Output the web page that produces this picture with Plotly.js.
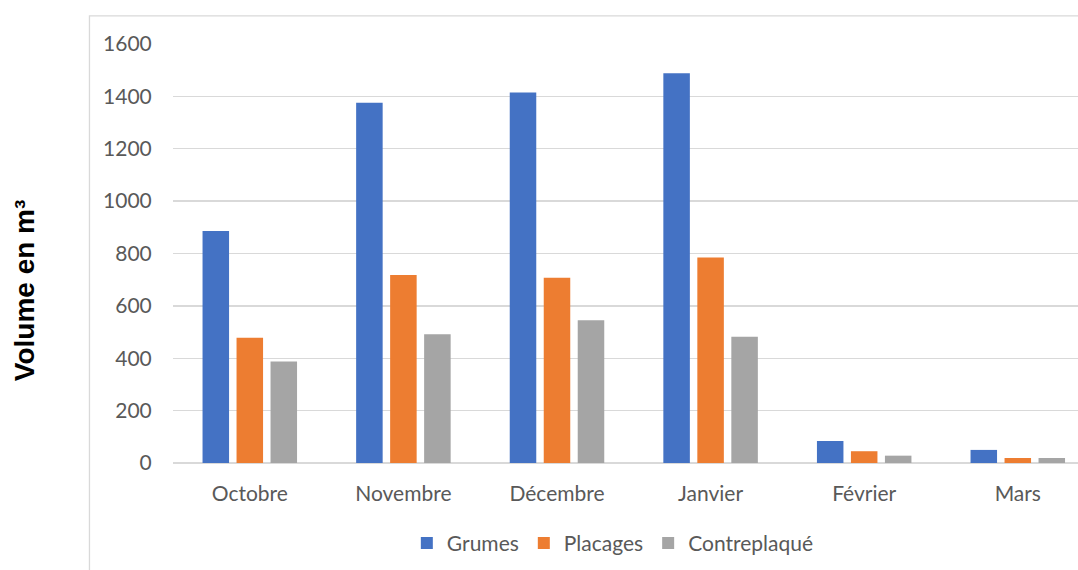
<!DOCTYPE html>
<html>
<head>
<meta charset="utf-8">
<script src="https://cdn.plot.ly/plotly-3.0.1.min.js"></script>
<style>
  html, body { margin: 0; padding: 0; background: #ffffff; }
  #chart { width: 1078px; height: 570px; }
</style>
</head>
<body>
<div id="chart"></div>
<script>
// Monthly volumes (m³) by product type
const months = ["Octobre", "Novembre", "Décembre", "Janvier", "Février", "Mars"];
const grumes = [886, 1376, 1415, 1488, 84, 50];
const placages = [478, 718, 707, 785, 45, 19];
const contreplaque = [388, 492, 545, 482, 28, 19];
const yTicks = [0, 200, 400, 600, 800, 1000, 1200, 1400, 1600];

const seriesNames = ["Grumes", "Placages", "Contreplaqué"];
const seriesColors = ["#4472C4", "#ED7D31", "#A5A5A5"];
const seriesValues = [grumes, placages, contreplaque];

const tickFont = { family: "Lato, 'Open Sans', sans-serif", size: 21, color: "#595959" };

const traces = seriesValues.map((vals, i) => ({
  type: "bar",
  name: seriesNames[i],
  x: months,
  y: vals,
  marker: { color: seriesColors[i], line: { width: 0 } },
  hoverinfo: "x+y+name"
}));

const layout = {
  width: 1078,
  height: 570,
  margin: { l: 173, r: 0, t: 44, b: 107, pad: 0 },
  paper_bgcolor: "#ffffff",
  plot_bgcolor: "#ffffff",
  barmode: "group",
  bargap: 0.336,
  bargroupgap: 0.22,
  showlegend: true,
  legend: {
    orientation: "h",
    x: 0.486,
    xanchor: "center",
    y: -0.192,
    yanchor: "middle",
    font: tickFont,
    itemwidth: 30,
    traceorder: "normal"
  },
  xaxis: {
    type: "category",
    range: [-0.5, 5.392],
    showgrid: false,
    showline: false,
    zeroline: false,
    ticks: "outside",
    ticklen: 12,
    tickcolor: "rgba(0,0,0,0)",
    tickfont: tickFont,
    fixedrange: true
  },
  yaxis: {
    range: [0, 1600],
    tickvals: yTicks,
    ticktext: yTicks.map(String),
    showgrid: true,
    gridcolor: "#d9d9d9",
    gridwidth: 1.3,
    zeroline: true,
    zerolinecolor: "#d9d9d9",
    zerolinewidth: 1.3,
    showline: false,
    ticks: "outside",
    ticklen: 16,
    tickcolor: "rgba(0,0,0,0)",
    tickfont: tickFont,
    fixedrange: true
  },
  annotations: [{
    text: "<b>Volume en m³</b>",
    xref: "paper", yref: "paper",
    x: -0.1646, y: 0.4125,
    xanchor: "center", yanchor: "middle",
    textangle: -90,
    showarrow: false,
    font: { family: "'Liberation Sans', Arial, sans-serif", size: 28, color: "#000000" }
  }],
  shapes: [{
    // chart area frame
    type: "rect",
    xref: "paper", yref: "paper",
    x0: -0.0923, x1: 1.2,
    y0: -0.4, y1: 1.0669,
    line: { color: "#d9d9d9", width: 1.3 },
    fillcolor: "rgba(0,0,0,0)",
    layer: "below"
  }]
};

Plotly.newPlot("chart", traces, layout, { displayModeBar: false, staticPlot: true });
</script>
</body>
</html>
